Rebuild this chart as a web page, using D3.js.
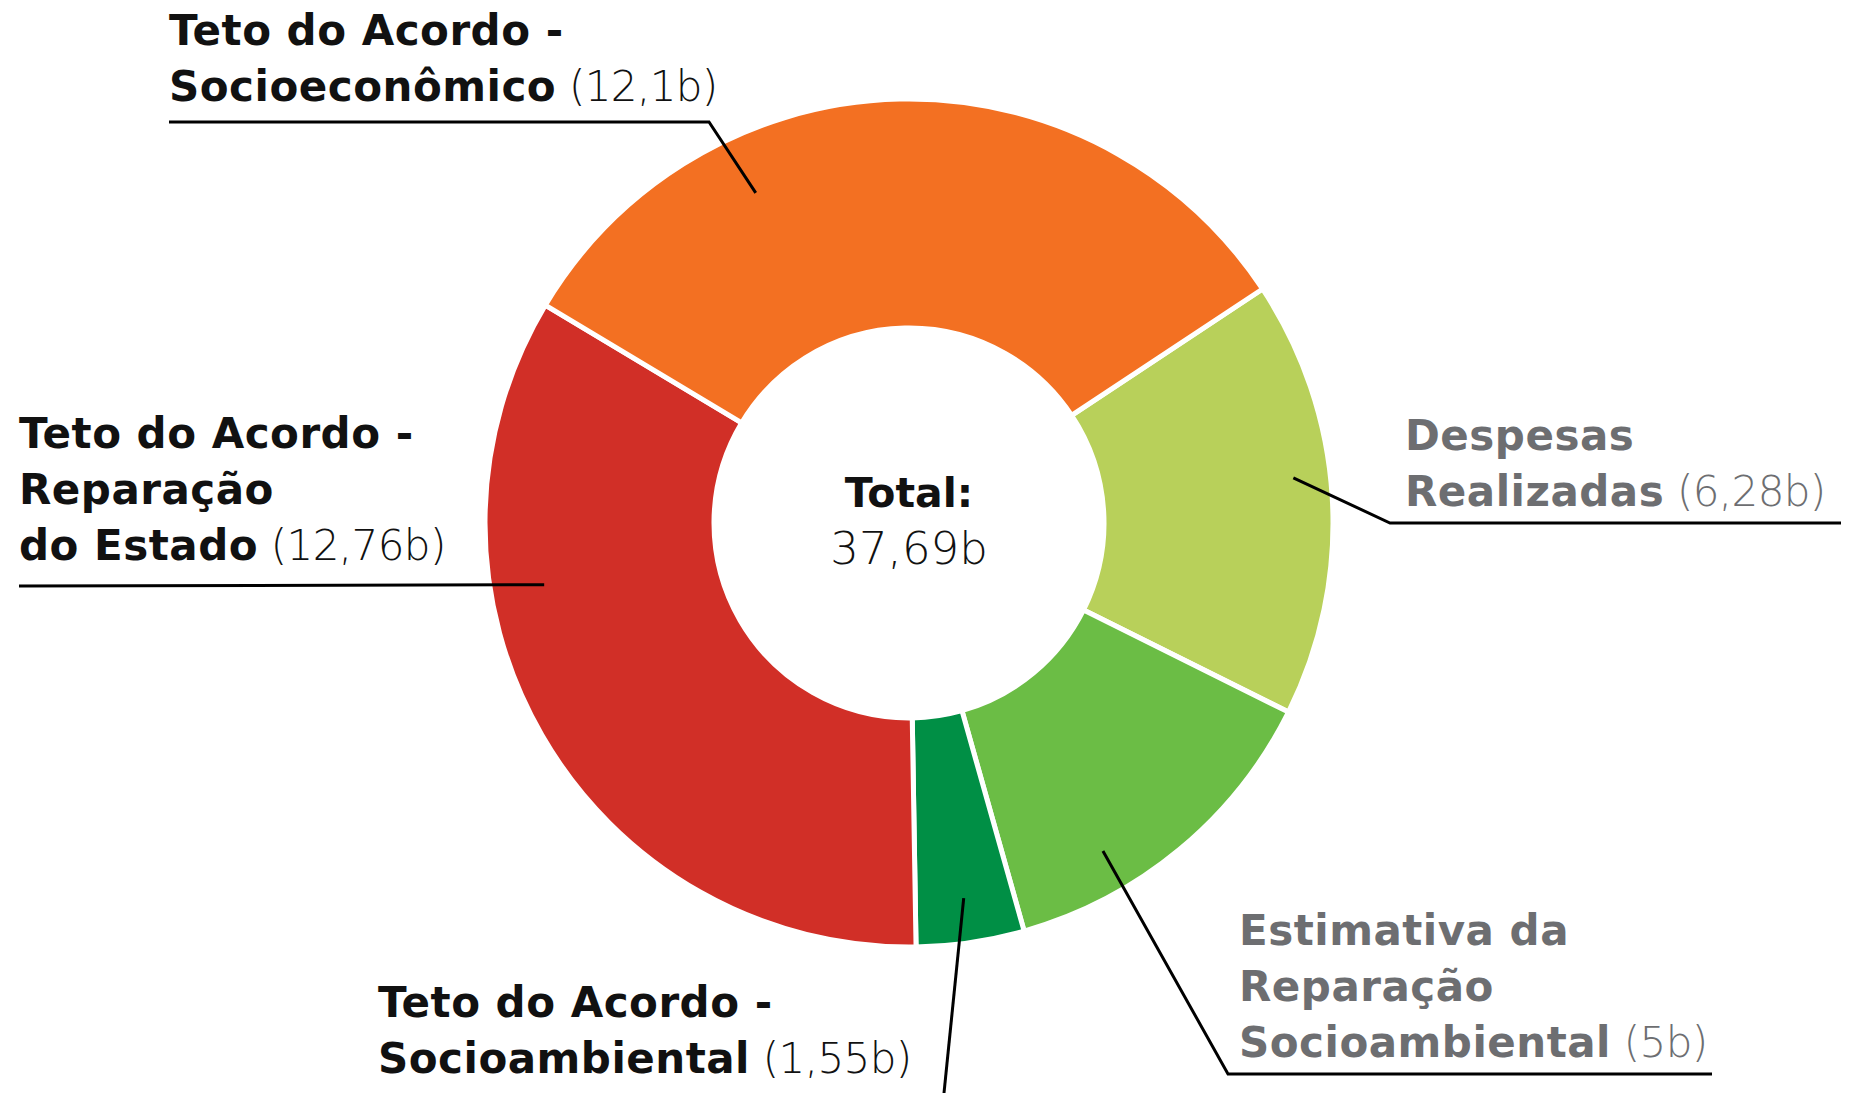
<!DOCTYPE html>
<html>
<head>
<meta charset="utf-8">
<script src="https://cdn.jsdelivr.net/npm/d3@7"></script>
<style>
  body { margin: 0; background: #fff; }
  svg { display: block; }
  text { font-family: 'DejaVu Sans', sans-serif; }
</style>
</head>
<body>
<svg width="1850" height="1093"></svg>
<script>
// data
const categories = [
  'Despesas Realizadas',
  'Estimativa da Reparação Socioambiental',
  'Teto do Acordo - Socioambiental',
  'Teto do Acordo - Reparação do Estado',
  'Teto do Acordo - Socioeconômico'
];
const values = [6.28, 5, 1.55, 12.76, 12.1];
const valueLabels = ['(6,28b)', '(5b)', '(1,55b)', '(12,76b)', '(12,1b)'];
const totalTitle = 'Total:';
const totalLabel = '37,69b';

const sliceColors = ['#b8d05a', '#6bbd45', '#008f45', '#d12f27', '#f37022'];
const textColors = ['#6d6e71', '#6d6e71', '#111', '#111', '#111'];

// how each category name is broken into lines
const labelLines = [
  ['Despesas', 'Realizadas'],
  ['Estimativa da', 'Reparação', 'Socioambiental'],
  ['Teto do Acordo -', 'Socioambiental'],
  ['Teto do Acordo -', 'Reparação', 'do Estado'],
  ['Teto do Acordo -', 'Socioeconômico']
];

const svg = d3.select('svg');
const width = +svg.attr('width');
const height = +svg.attr('height');

const cx = 909, cy = 523;
const outerR = 424, innerR = 195;
const fontSize = 42;
const valueSize = 42;
const lineGap = 56;
const deg = Math.PI / 180;

// label placement: text origin, underline, leader end (angle, radius)
const labelLayout = [
  { x: 1405, y: 450, under: [1390, 1841, 523], tip: [83.3, 387], side: 'right' },
  { x: 1239, y: 945, under: [1228, 1712, 1074], tip: [149.4, 381], side: 'right' },
  { x: 378, y: 1017, under: null, tip: [171.7, 379], tail: [944, 1093] },
  { x: 19, y: 448, under: [19, null, 586], tip: [260.4, 370], side: 'left' },
  { x: 169, y: 45, under: [169, 709, 122], tip: [335.1, 364], side: 'left' }
];

const data = categories.map((c, i) => ({ name: c, value: values[i], i }));

const pie = d3.pie()
  .sort(null)
  .value(d => d.value)
  .startAngle(56.5 * deg)
  .endAngle((56.5 + 360) * deg);

const arc = d3.arc()
  .innerRadius(innerR)
  .outerRadius(outerR);

const g = svg.append('g')
  .attr('transform', `translate(${cx}, ${cy})`);

g.selectAll('path.slice').data(pie(data))
  .enter().append('path')
    .attr('class', 'slice')
    .attr('d', arc)
    .attr('fill', d => sliceColors[d.data.i])
    .attr('stroke', '#fff')
    .attr('stroke-width', 5)
    .attr('stroke-linejoin', 'round');

// center total
g.append('text')
  .attr('text-anchor', 'middle')
  .attr('y', -16)
  .attr('font-size', 41)
  .attr('font-weight', 700)
  .attr('fill', '#111')
  .text(totalTitle);

g.append('text')
  .attr('text-anchor', 'middle')
  .attr('y', 41)
  .attr('font-size', 45)
  .attr('font-weight', 300)
  .attr('fill', '#111')
  .text(totalLabel);

// leader lines
const line = d3.line();
labelLayout.forEach((L, i) => {
  const p = d3.pointRadial(L.tip[0] * deg, L.tip[1]);
  const tip = [cx + p[0], cy + p[1]];
  let pts;
  if (L.under == null) {
    // runs off the bottom edge
    const t = (height + 20 - tip[1]) / (L.tail[1] - tip[1]);
    pts = [tip, [tip[0] + (L.tail[0] - tip[0]) * t, height + 20]];
  } else if (L.side === 'right') {
    pts = [tip, [L.under[0], L.under[2]], [L.under[1], L.under[2]]];
  } else if (L.under[1] == null) {
    pts = [[L.under[0], L.under[2]], tip];
  } else {
    pts = [[L.under[0], L.under[2]], [L.under[1], L.under[2]], tip];
  }
  svg.append('path')
    .attr('d', line(pts))
    .attr('fill', 'none')
    .attr('stroke', '#000')
    .attr('stroke-width', 3);
});

// labels
labelLayout.forEach((L, i) => {
  const t = svg.append('text')
    .attr('font-size', fontSize)
    .attr('fill', textColors[i]);
  labelLines[i].forEach((ln, k) => {
    t.append('tspan')
      .attr('x', L.x)
      .attr('y', L.y + k * lineGap)
      .attr('font-weight', 700)
      .attr('letter-spacing', 0.5)
      .text(ln);
  });
  t.append('tspan')
    .attr('font-weight', 300)
    .attr('font-size', valueSize)
    .attr('letter-spacing', -0.6)
    .text('\u00a0' + valueLabels[i]);
});
</script>
</body>
</html>
